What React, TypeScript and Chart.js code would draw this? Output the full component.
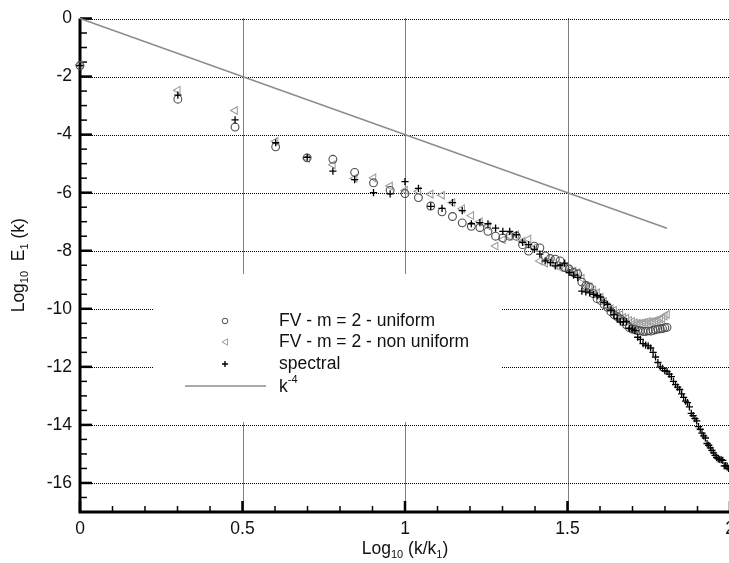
import React, { useEffect, useRef } from "react";
import { Chart, registerables } from "chart.js";

Chart.register(...registerables);

// ---------- data ----------
const fvWaveNumbers = [
  1, 2, 3, 4, 5, 6, 7, 8, 9, 10, 11, 12, 13, 14, 15, 16, 17, 18, 19, 20,
  21, 22, 23, 24, 25, 26, 27, 28, 29, 30, 31, 32, 33, 34, 35, 36, 37, 38, 39, 40,
  41, 42, 43, 44, 45, 46, 47, 48, 49, 50, 51, 52, 53, 54, 55, 56, 57, 58, 59, 60,
  61, 62, 63, 64,
];

const uniformLogE = [
  -1.62, -2.78, -3.74, -4.42, -4.8, -4.85, -5.3, -5.66, -5.92, -6.03,
  -6.17, -6.46, -6.66, -6.82, -7.04, -7.16, -7.2, -7.33, -7.5, -7.56,
  -7.5, -7.5, -7.79, -8.01, -7.84, -7.9, -8.18, -8.27, -8.29, -8.35,
  -8.58, -8.63, -8.75, -8.8, -9.08, -9.2, -9.25, -9.48, -9.65, -9.71,
  -9.85, -9.95, -10.1, -10.2, -10.27, -10.35, -10.44, -10.55, -10.65, -10.7,
  -10.72, -10.75, -10.76, -10.78, -10.78, -10.76, -10.77, -10.74, -10.72, -10.7,
  -10.69, -10.68, -10.65, -10.64,
];

const nonUniformLogE = [
  -1.6, -2.47, -3.17, -4.23, -4.82, -5.04, -5.5, -5.49, -5.77, -5.92,
  -5.95, -6.05, -6.09, -6.34, -6.55, -6.79, -7.0, -7.15, -7.84, -7.62,
  -7.5, -7.45, -7.67, -7.6, -7.9, -8.35, -8.43, -8.35, -8.5, -8.58,
  -8.62, -8.67, -8.7, -8.75, -8.95, -9.2, -9.25, -9.35, -9.45, -9.6,
  -9.75, -9.93, -10.0, -10.05, -10.15, -10.2, -10.3, -10.33, -10.4, -10.44,
  -10.48, -10.5, -10.5, -10.48, -10.46, -10.44, -10.45, -10.44, -10.4, -10.38,
  -10.35, -10.33, -10.25, -10.2,
];

const spectralWaveNumbers = [
  1, 2, 3, 4, 5, 6, 7, 8, 9, 10, 11, 12, 13, 14, 15, 16, 17, 18, 19, 20,
  21, 22, 23, 24, 25, 26, 27, 28, 29, 30, 31, 32, 33, 34, 35, 36, 37, 38, 39, 40,
  41, 42, 43, 44, 45, 46, 47, 48, 49, 50, 51, 52, 53, 54, 55, 56, 57, 58, 59, 60,
  61, 62, 63, 64, 65, 66, 67, 68, 69, 70, 71, 72, 73, 74, 75, 76, 77, 78, 79, 80,
  81, 82, 83, 84, 85, 86, 87, 88, 89, 90, 91, 92, 93, 94, 95, 96, 97, 98, 99, 100,
];

const spectralLogE = [
  -1.62, -2.64, -3.49, -4.28, -4.78, -5.26, -5.55, -6.0, -6.04, -5.62,
  -5.85, -6.47, -6.54, -6.34, -6.62, -7.07, -7.03, -7.07, -7.22, -7.33,
  -7.33, -7.45, -7.71, -7.79, -7.95, -8.12, -8.35, -8.41, -8.52, -8.5,
  -8.43, -8.75, -8.84, -8.92, -9.39, -9.42, -9.45, -9.5, -9.55, -9.6,
  -9.78, -9.85, -10.05, -10.2, -10.35, -10.45, -10.44, -10.45, -10.67, -10.7,
  -10.75, -10.98, -11.05, -11.2, -11.25, -11.28, -11.35, -11.5, -11.66, -11.85,
  -12.0, -12.05, -12.13, -12.16, -12.25, -12.34, -12.5, -12.61, -12.7, -12.78,
  -12.93, -13.05, -13.18, -13.23, -13.38, -13.6, -13.68, -13.78, -13.86, -14.06,
  -14.15, -14.28, -14.38, -14.45, -14.64, -14.7, -14.79, -14.88, -14.96, -15.05,
  -15.13, -15.17, -15.19, -15.2, -15.22, -15.41, -15.4, -15.42, -15.5, -15.55,
];

// reference slope line k^-4 (in log-log coordinates)
const slopeLineX = [0, 1.806];
const slopeLineY = [0, -7.224];

const xTickValues = [0, 0.5, 1, 1.5, 2];
const xTickLabels = ["0", "0.5", "1", "1.5", "2"];
const yTickValues = [0, -2, -4, -6, -8, -10, -12, -14, -16];
const yTickLabels = ["0", "-2", "-4", "-6", "-8", "-10", "-12", "-14", "-16"];

const legendLabels = [
  "FV - m = 2 - uniform",
  "FV - m = 2 - non uniform",
  "spectral",
  "k",
];

// ---------- styling ----------
const FONT = "'Liberation Sans', Arial, Helvetica, sans-serif";
const TEXT = "#111111";
const C_UNIFORM = "#4d4d4d";
const C_NONUNI = "#9e9e9e";
const C_SPECTRAL = "#000000";
const C_SLOPE = "#8c8c8c";

const toPoints = (ks: number[], ys: number[]) =>
  ks.map((k, i) => ({ x: Math.log10(k), y: ys[i] }));

type Seg = { t: string; size: number; dy: number };

function drawRich(ctx: CanvasRenderingContext2D, segs: Seg[], cx: number, cy: number) {
  let total = 0;
  const widths = segs.map((s) => {
    ctx.font = `${s.size}px ${FONT}`;
    const w = ctx.measureText(s.t).width;
    total += w;
    return w;
  });
  let x = cx - total / 2;
  ctx.textAlign = "left";
  ctx.textBaseline = "alphabetic";
  segs.forEach((s, i) => {
    ctx.font = `${s.size}px ${FONT}`;
    ctx.fillText(s.t, x, cy + s.dy);
    x += widths[i];
  });
}

const decorPlugin = {
  id: "decor",
  beforeDatasetsDraw(chart: any) {
    const { ctx, chartArea, scales } = chart;
    const xs = scales.x;
    const ys = scales.y;
    ctx.save();
    // dotted grid
    ctx.strokeStyle = "#000";
    ctx.lineWidth = 1;
    ctx.setLineDash([1, 1]);
    xTickValues.forEach((v) => {
      const px = Math.round(xs.getPixelForValue(v)) + 0.5;
      ctx.beginPath();
      ctx.moveTo(px, chartArea.top);
      ctx.lineTo(px, chartArea.bottom);
      ctx.stroke();
    });
    yTickValues.forEach((v) => {
      const py = Math.round(ys.getPixelForValue(v)) + 0.5;
      ctx.beginPath();
      ctx.moveTo(chartArea.left, py);
      ctx.lineTo(chartArea.right, py);
      ctx.stroke();
    });
    ctx.setLineDash([]);

    // legend box (opaque, hides grid)
    ctx.fillStyle = "#fff";
    ctx.fillRect(153, 274, 349, 148);

    // axes lines
    ctx.strokeStyle = "#000";
    ctx.lineWidth = 3;
    ctx.beginPath();
    ctx.moveTo(chartArea.left, chartArea.top);
    ctx.lineTo(chartArea.left, chartArea.bottom);
    ctx.lineTo(chartArea.right + 5, chartArea.bottom);
    ctx.stroke();

    // y ticks (inside)
    for (let v = 0; v >= -17; v -= 0.5) {
      const major = Math.abs(v % 2) < 1e-9;
      const py = ys.getPixelForValue(v);
      ctx.lineWidth = major ? 2.5 : 1.5;
      ctx.beginPath();
      ctx.moveTo(chartArea.left, py);
      ctx.lineTo(chartArea.left + (major ? 12 : 7), py);
      ctx.stroke();
    }
    // x ticks (inside)
    for (let i = 0; i <= 20; i++) {
      const v = i / 10;
      const major = i % 5 === 0;
      const px = xs.getPixelForValue(v);
      ctx.lineWidth = major ? 2.5 : 1.5;
      ctx.beginPath();
      ctx.moveTo(px, chartArea.bottom);
      ctx.lineTo(px, chartArea.bottom - (major ? 11 : 6));
      ctx.stroke();
    }
    ctx.restore();
  },
  afterDatasetsDraw(chart: any) {
    const { ctx, chartArea } = chart;
    ctx.save();
    ctx.fillStyle = TEXT;

    // legend
    const lx = 225;
    const tx = 279;
    const rows = [321, 342, 364, 386];
    // circle
    ctx.strokeStyle = C_UNIFORM;
    ctx.lineWidth = 1;
    ctx.beginPath();
    ctx.arc(lx, rows[0], 2.8, 0, Math.PI * 2);
    ctx.stroke();
    // triangle pointing left
    ctx.strokeStyle = C_NONUNI;
    ctx.beginPath();
    ctx.moveTo(lx - 3, rows[1]);
    ctx.lineTo(lx + 2.5, rows[1] - 3.2);
    ctx.lineTo(lx + 2.5, rows[1] + 3.2);
    ctx.closePath();
    ctx.stroke();
    // plus
    ctx.strokeStyle = C_SPECTRAL;
    ctx.lineWidth = 1.4;
    ctx.beginPath();
    ctx.moveTo(lx - 3, rows[2]);
    ctx.lineTo(lx + 3, rows[2]);
    ctx.moveTo(lx, rows[2] - 3);
    ctx.lineTo(lx, rows[2] + 3);
    ctx.stroke();
    // line
    ctx.strokeStyle = C_SLOPE;
    ctx.lineWidth = 1.5;
    ctx.beginPath();
    ctx.moveTo(185, rows[3]);
    ctx.lineTo(266, rows[3]);
    ctx.stroke();

    ctx.font = `17.5px ${FONT}`;
    ctx.textAlign = "left";
    ctx.textBaseline = "middle";
    ctx.fillText(legendLabels[0], tx, rows[0]);
    ctx.fillText(legendLabels[1], tx, rows[1]);
    ctx.fillText(legendLabels[2], tx, rows[2]);
    ctx.fillText(legendLabels[3], tx, rows[3] + 1);
    const kw = ctx.measureText(legendLabels[3]).width;
    ctx.font = `11px ${FONT}`;
    ctx.fillText("-4", tx + kw, rows[3] - 6);

    // x title
    drawRich(
      ctx,
      [
        { t: "Log", size: 17.5, dy: 0 },
        { t: "10", size: 11, dy: 4 },
        { t: " (k/k", size: 17.5, dy: 0 },
        { t: "1", size: 11, dy: 4 },
        { t: ")", size: 17.5, dy: 0 },
      ],
      (chartArea.left + chartArea.right) / 2,
      554
    );

    // y title
    ctx.translate(24, (chartArea.top + chartArea.bottom) / 2);
    ctx.rotate(-Math.PI / 2);
    drawRich(
      ctx,
      [
        { t: "Log", size: 17.5, dy: 0 },
        { t: "10", size: 11, dy: 4 },
        { t: "  E", size: 17.5, dy: 0 },
        { t: "1", size: 11, dy: 4 },
        { t: " (k)", size: 17.5, dy: 0 },
      ],
      0,
      0
    );
    ctx.restore();
  },
};

export default function App() {
  const canvasRef = useRef<HTMLCanvasElement | null>(null);

  useEffect(() => {
    const canvas = canvasRef.current;
    if (!canvas) return;
    const chart = new Chart(canvas, {
      type: "scatter",
      data: {
        datasets: [
          {
            label: "k^-4",
            type: "line",
            data: slopeLineX.map((x, i) => ({ x, y: slopeLineY[i] })),
            borderColor: C_SLOPE,
            borderWidth: 1.5,
            pointRadius: 0,
            fill: false,
            clip: false,
          } as any,
          {
            label: legendLabels[2],
            data: toPoints(spectralWaveNumbers, spectralLogE),
            pointStyle: "cross",
            pointRadius: 3.6,
            borderColor: C_SPECTRAL,
            backgroundColor: C_SPECTRAL,
            borderWidth: 1.3,
            clip: false,
          } as any,
          {
            label: legendLabels[0],
            data: toPoints(fvWaveNumbers, uniformLogE),
            pointStyle: "circle",
            pointRadius: 3.9,
            borderColor: C_UNIFORM,
            backgroundColor: "rgba(0,0,0,0)",
            borderWidth: 1.1,
            clip: false,
          } as any,
          {
            label: legendLabels[1],
            data: toPoints(fvWaveNumbers, nonUniformLogE),
            pointStyle: "triangle",
            rotation: -90,
            pointRadius: 4.4,
            borderColor: C_NONUNI,
            backgroundColor: "rgba(0,0,0,0)",
            borderWidth: 1.1,
            clip: false,
          } as any,
        ],
      },
      options: {
        responsive: false,
        animation: false,
        events: [],
        layout: { padding: { top: 12, right: 30, left: 0, bottom: 0 } },
        plugins: {
          legend: { display: false },
          tooltip: { enabled: false },
          title: { display: false },
        },
        scales: {
          x: {
            type: "linear",
            min: 0,
            max: 2,
            grid: { display: false, drawTicks: false },
            border: { display: false },
            afterBuildTicks: (scale: any) => {
              scale.ticks = xTickValues.map((value) => ({ value }));
            },
            afterFit: (scale: any) => {
              scale.height = 51;
            },
            ticks: {
              padding: 7,
              color: TEXT,
              font: { family: FONT, size: 17.5 },
              maxRotation: 0,
              autoSkip: false,
              callback: (_v: any, i: number) => xTickLabels[i],
            },
          },
          y: {
            type: "linear",
            min: -17,
            max: 0,
            grid: { display: false, drawTicks: false },
            border: { display: false },
            afterBuildTicks: (scale: any) => {
              scale.ticks = yTickValues.map((value) => ({ value }));
            },
            afterFit: (scale: any) => {
              scale.width = 80;
            },
            ticks: {
              padding: 8,
              color: TEXT,
              font: { family: FONT, size: 17.5 },
              autoSkip: false,
              callback: (_v: any, i: number) => yTickLabels[i],
            },
          },
        },
      },
      plugins: [decorPlugin],
    });
    return () => chart.destroy();
  }, []);

  return (
    <div
      style={{
        position: "absolute",
        left: 0,
        top: 0,
        width: 729,
        height: 563,
        overflow: "hidden",
        background: "#fff",
      }}
    >
      <canvas ref={canvasRef} width={760} height={563} style={{ display: "block" }} />
    </div>
  );
}
